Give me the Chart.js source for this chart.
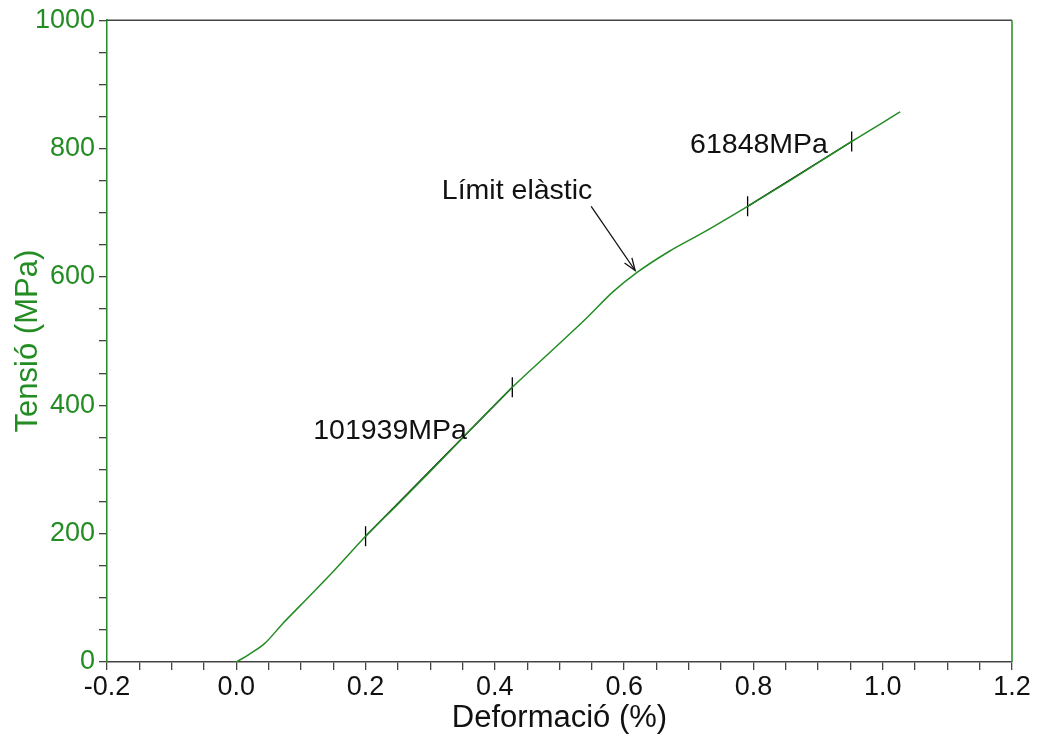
<!DOCTYPE html>
<html lang="ca">
<head>
  <meta charset="UTF-8">
  <title>Tensió - Deformació</title>
  <script src="https://cdn.jsdelivr.net/npm/chart.js"></script>
  <style>
    html, body { margin: 0; padding: 0; background: #fff; }
    #wrap { width: 1037px; height: 737px; }
  </style>
</head>
<body>
  <div id="wrap"><canvas id="chart" width="1037" height="737"></canvas></div>

  <script>
    // stress-strain curve
    const strain = [0, 0.02, 0.044, 0.072, 0.1, 0.15, 0.2, 0.25, 0.3, 0.35, 0.427, 0.49, 0.542, 0.583, 0.62, 0.67, 0.722, 0.791, 0.85, 0.952, 1.027];
    const stress = [0, 12, 29, 60, 89, 141, 196, 246, 297, 349, 428, 487, 536, 577, 607, 640, 669, 710, 746, 811, 857];

    // linear fits (young modulus)
    const fit1X = [0.2, 0.427];
    const fit1Y = [196, 428];
    const fit2X = [0.791, 0.952];
    const fit2Y = [710, 811];

    // arrow to the elastic limit
    const arrowX = [0.549, 0.617];
    const arrowY = [710, 610];

    // text notes
    const noteText = ['101939MPa', '61848MPa', 'Límit elàstic'];
    const noteX = [0.119, 0.702, 0.318];
    const noteY = [359, 805, 734];

    const xTicks = [-0.2, 0.0, 0.2, 0.4, 0.6, 0.8, 1.0, 1.2];
    const yTicks = [0, 200, 400, 600, 800, 1000];

    const GREEN = '#238c23';
    const GRAY = '#444';
    const FONT = 'Arial, "Liberation Sans", sans-serif';

    function pts(xs, ys) {
      return xs.map((x, i) => ({ x: x, y: ys[i] }));
    }

    const extras = {
      id: 'extras',
      afterDraw(chart) {
        const ctx = chart.ctx;
        const a = chart.chartArea;
        const sx = chart.scales.x, sy = chart.scales.y;
        ctx.save();
        // frame: top and right
        ctx.lineWidth = 1.5;
        ctx.strokeStyle = GRAY;
        ctx.beginPath();
        ctx.moveTo(a.left, a.top);
        ctx.lineTo(a.right, a.top);
        ctx.stroke();
        ctx.strokeStyle = GREEN;
        ctx.beginPath();
        ctx.moveTo(a.right, a.top);
        ctx.lineTo(a.right, a.bottom);
        ctx.stroke();

        // notes
        ctx.fillStyle = '#111';
        ctx.font = '28.5px ' + FONT;
        ctx.textAlign = 'left';
        ctx.textBaseline = 'middle';
        noteText.forEach((t, i) => {
          ctx.fillText(t, sx.getPixelForValue(noteX[i]), sy.getPixelForValue(noteY[i]));
        });

        // arrow head
        const x0 = sx.getPixelForValue(arrowX[0]), y0 = sy.getPixelForValue(arrowY[0]);
        const x1 = sx.getPixelForValue(arrowX[1]), y1 = sy.getPixelForValue(arrowY[1]);
        const ang = Math.atan2(y1 - y0, x1 - x0);
        const len = 13, spread = 0.35;
        ctx.strokeStyle = '#111';
        ctx.lineWidth = 1.3;
        ctx.beginPath();
        ctx.moveTo(x1 - len * Math.cos(ang - spread), y1 - len * Math.sin(ang - spread));
        ctx.lineTo(x1, y1);
        ctx.lineTo(x1 - len * Math.cos(ang + spread), y1 - len * Math.sin(ang + spread));
        ctx.stroke();
        ctx.restore();
      }
    };

    function isMajor(v, step) {
      const r = v / step;
      return Math.abs(r - Math.round(r)) < 1e-6;
    }

    function xLabel(v) {
      if (!isMajor(v, 0.2)) return '';
      return (Math.abs(v) < 1e-9 ? 0 : v).toFixed(1);
    }

    new Chart(document.getElementById('chart'), {
      type: 'scatter',
      data: {
        datasets: [
          {
            data: pts(strain, stress),
            showLine: true,
            borderColor: GREEN,
            borderWidth: 1.5,
            pointRadius: 0,
            cubicInterpolationMode: 'monotone'
          },
          {
            data: pts(fit1X, fit1Y),
            showLine: true,
            borderColor: '#000',
            borderWidth: 1.4,
            pointStyle: 'line',
            rotation: 90,
            pointRadius: 10,
            pointBorderColor: '#000',
            pointBorderWidth: 1.3
          },
          {
            data: pts(fit2X, fit2Y),
            showLine: true,
            borderColor: '#000',
            borderWidth: 1.4,
            pointStyle: 'line',
            rotation: 90,
            pointRadius: 10,
            pointBorderColor: '#000',
            pointBorderWidth: 1.3
          },
          {
            data: pts(arrowX, arrowY),
            showLine: true,
            borderColor: '#111',
            borderWidth: 1.3,
            pointRadius: 0
          }
        ]
      },
      options: {
        responsive: false,
        animation: false,
        layout: { padding: { top: 16, right: 25, left: 0, bottom: 0 } },
        plugins: {
          legend: { display: false },
          tooltip: { enabled: false }
        },
        scales: {
          x: {
            type: 'linear',
            min: xTicks[0],
            max: xTicks[xTicks.length - 1],
            afterFit(s) { s.height = 75; },
            border: { color: GRAY, width: 1.5 },
            grid: { drawOnChartArea: false, drawTicks: true, tickLength: 8, color: GRAY, lineWidth: 1.3 },
            ticks: {
              stepSize: 0.05,
              autoSkip: false,
              maxRotation: 0,
              padding: 1,
              color: '#111',
              font: { family: FONT, size: 27 },
              callback: xLabel
            },
            title: {
              display: true,
              text: 'Deformació (%)',
              color: '#111',
              font: { family: FONT, size: 31 },
              padding: { top: -8, bottom: 0 }
            }
          },
          y: {
            type: 'linear',
            min: yTicks[0],
            max: yTicks[yTicks.length - 1],
            afterFit(s) { s.width = 107; },
            border: { color: GREEN, width: 1.5 },
            grid: { drawOnChartArea: false, drawTicks: true, tickLength: 8, color: GRAY, lineWidth: 1.3 },
            ticks: {
              stepSize: 50,
              autoSkip: false,
              padding: 4,
              color: GREEN,
              font: { family: FONT, size: 27 },
              callback: v => isMajor(v, 200) ? String(v) : ''
            },
            title: {
              display: true,
              text: 'Tensió (MPa)',
              color: GREEN,
              font: { family: FONT, size: 31 },
              padding: { top: 10, bottom: 0 }
            }
          }
        }
      },
      plugins: [extras]
    });
  </script>
</body>
</html>
